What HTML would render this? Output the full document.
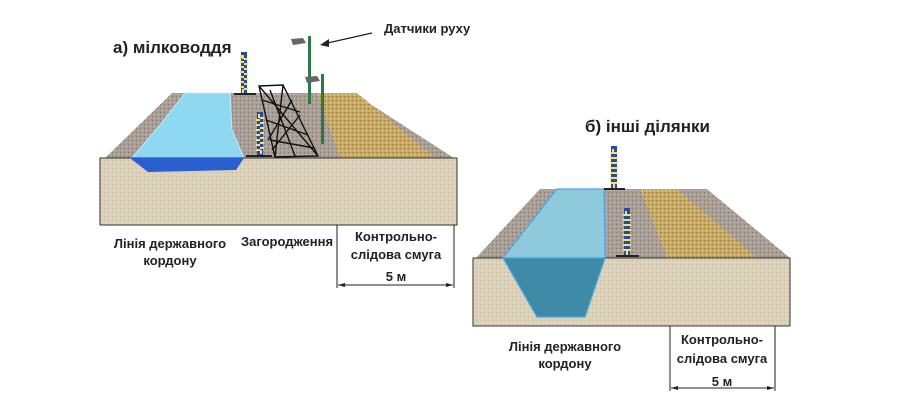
<!DOCTYPE html>
<html><head><meta charset="utf-8"><style>
body{margin:0;background:#fff}
svg{display:block}
text{font-family:"Liberation Sans",Arial,sans-serif;font-weight:bold;fill:#222}
</style></head><body>
<svg width="900" height="400" viewBox="0 0 900 400" xmlns="http://www.w3.org/2000/svg">
<defs>
<pattern id="grav" width="4" height="4" patternUnits="userSpaceOnUse"><rect width="4" height="4" fill="#a99e95"/><rect x="0" y="0" width="1" height="1" fill="#7d746d"/><rect x="2" y="2" width="1" height="1" fill="#ccc3bb"/></pattern>
<pattern id="sand" width="4" height="4" patternUnits="userSpaceOnUse"><rect width="4" height="4" fill="#c8a866"/><rect width="2" height="1" fill="#a88840"/><rect x="2" y="2" width="1" height="2" fill="#e0c98a"/></pattern>
<pattern id="soil" width="4" height="4" patternUnits="userSpaceOnUse"><rect width="4" height="4" fill="#dbd1b8"/><rect width="1" height="1" fill="#c5b99e"/><rect x="2" y="2" width="1" height="1" fill="#e9e1cd"/></pattern>
</defs>

<!-- Diagram A -->
<text x="113" y="53" font-size="17">а) мілководдя</text>
<text x="384" y="33" font-size="13">Датчики руху</text>
<line x1="372" y1="33" x2="323" y2="44" stroke="#222" stroke-width="1.2"/>
<polygon points="320,45 329,39 329,47" fill="#222"/>
<polygon points="103,160 172,93 353,93 457,160" fill="url(#grav)"/>
<polygon points="317,93 357,93 435,158 340,158" fill="url(#sand)"/>
<polygon points="185,93 230,93 232,130 244,158 130,160 160,125" fill="#8fd8f2" stroke="#bfeaf8"/>
<rect x="100" y="158" width="357" height="67" fill="url(#soil)" stroke="#333" stroke-width="1"/>
<polygon points="130,158 244,158 236,170 148,172" fill="#2b5fd0"/>
<!-- posts A -->
<rect x="241" y="52" width="6" height="42" fill="#2a4a9a"/><rect x="242" y="57" width="4" height="34" fill="none" stroke="#f0e080" stroke-dasharray="2 3" stroke-width="4"/>
<rect x="234" y="93" width="22" height="2" fill="#222"/>
<rect x="257" y="112" width="6" height="43" fill="#2a4a9a"/><rect x="258" y="116" width="4" height="36" fill="none" stroke="#f0e080" stroke-dasharray="2 3" stroke-width="4"/>
<rect x="246" y="155" width="26" height="2" fill="#222"/>
<!-- fence -->
<g stroke="#111" stroke-width="1.4" fill="none">
<polygon points="259,86 283,85 318,156 275,157"/>
<line x1="259" y1="86" x2="318" y2="156"/><line x1="283" y1="85" x2="275" y2="157"/>
<line x1="262" y1="100" x2="300" y2="112"/><line x1="266" y1="120" x2="308" y2="135"/>
<line x1="270" y1="140" x2="314" y2="148"/>
<line x1="270" y1="90" x2="295" y2="156"/><line x1="292" y1="100" x2="268" y2="140"/>
<line x1="300" y1="115" x2="272" y2="150"/>
</g>
<!-- sensor poles -->
<rect x="308" y="36" width="3" height="68" fill="#2c7a4a"/>
<polygon points="291,39 303,38 306,43 293,45" fill="#666"/>
<rect x="321" y="74" width="3" height="70" fill="#2c7a4a"/>
<polygon points="305,77 317,76 320,81 307,83" fill="#666"/>
<!-- labels A -->
<text x="170" y="248" font-size="13" text-anchor="middle">Лінія державного</text>
<text x="170" y="265" font-size="13" text-anchor="middle">кордону</text>
<text x="287" y="246" font-size="13" text-anchor="middle">Загородження</text>
<text x="396" y="241" font-size="13" text-anchor="middle">Контрольно-</text>
<text x="396" y="259" font-size="13" text-anchor="middle">слідова смуга</text>
<text x="396" y="281" font-size="13" text-anchor="middle">5 м</text>
<g stroke="#222" stroke-width="1"><line x1="337" y1="225" x2="337" y2="288"/><line x1="454" y1="225" x2="454" y2="288"/><line x1="338" y1="285" x2="453" y2="285"/></g>
<polygon points="338,285 345,283 345,287" fill="#222"/><polygon points="453,285 446,283 446,287" fill="#222"/>

<!-- Diagram B -->
<text x="585" y="132" font-size="17">б) інші ділянки</text>
<polygon points="476,258 540,189 707,189 790,258" fill="url(#grav)"/>
<polygon points="640,189 677,189 757,258 667,258" fill="url(#sand)"/>
<polygon points="557,189 604,189 605,258 503,258" fill="#8fc9dc" stroke="#4aa8e8" stroke-width="1.2"/>
<rect x="473" y="258" width="317" height="68" fill="url(#soil)" stroke="#333" stroke-width="1"/>
<polygon points="503,258 605,258 585,317 537,317" fill="#3f8aa6" stroke="#4aa8e8" stroke-width="1.2"/>
<rect x="611" y="146" width="6" height="42" fill="#2a4a9a"/><rect x="612" y="151" width="4" height="35" fill="none" stroke="#f0e080" stroke-dasharray="2 3" stroke-width="4"/>
<rect x="604" y="188" width="21" height="2" fill="#222"/>
<rect x="624" y="208" width="6" height="47" fill="#2a4a9a"/><rect x="625" y="213" width="4" height="40" fill="none" stroke="#f0e080" stroke-dasharray="2 3" stroke-width="4"/>
<rect x="616" y="255" width="23" height="2" fill="#222"/>
<text x="565" y="351" font-size="13" text-anchor="middle">Лінія державного</text>
<text x="565" y="368" font-size="13" text-anchor="middle">кордону</text>
<text x="722" y="344" font-size="13" text-anchor="middle">Контрольно-</text>
<text x="722" y="363" font-size="13" text-anchor="middle">слідова смуга</text>
<text x="722" y="386" font-size="13" text-anchor="middle">5 м</text>
<g stroke="#222" stroke-width="1"><line x1="670" y1="326" x2="670" y2="391"/><line x1="775" y1="326" x2="775" y2="391"/><line x1="671" y1="388" x2="774" y2="388"/></g>
<polygon points="671,388 678,386 678,390" fill="#222"/><polygon points="774,388 767,386 767,390" fill="#222"/>
</svg>
</body></html>
